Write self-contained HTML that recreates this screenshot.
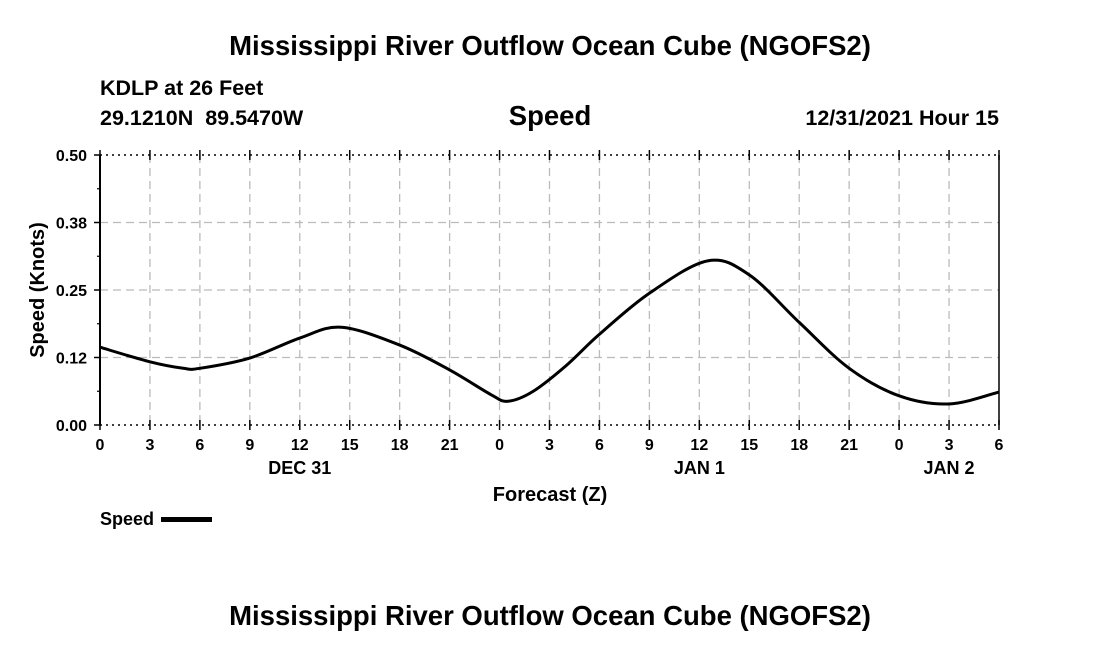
<!DOCTYPE html>
<html><head><meta charset="utf-8"><style>
body{margin:0;background:#fff;width:1100px;height:650px;overflow:hidden;font-family:"Liberation Sans",sans-serif}
svg text{font-family:"Liberation Sans",sans-serif;font-weight:bold;fill:#000}
</style></head><body>
<svg width="1100" height="650">
<text x="550" y="55" font-size="27.5" text-anchor="middle">Mississippi River Outflow Ocean Cube (NGOFS2)</text>
<text x="100" y="95" font-size="21.5">KDLP at 26 Feet</text>
<text x="100" y="125" font-size="21.5" xml:space="preserve">29.1210N  89.5470W</text>
<text x="550" y="125" font-size="27.5" text-anchor="middle">Speed</text>
<text x="999" y="125" font-size="21.5" text-anchor="end">12/31/2021 Hour 15</text>
<g id="grid"></g>
<g id="axes"></g>
<path id="line" fill="none" stroke="#000" stroke-width="3"></path>
<text x="550" y="501" font-size="20" text-anchor="middle">Forecast (Z)</text>
<text transform="translate(44,290) rotate(-90)" font-size="20" text-anchor="middle">Speed (Knots)</text>
<text x="100" y="525" font-size="18">Speed</text>
<rect x="161" y="517" width="51" height="5" fill="#000"></rect>
<text x="550" y="625" font-size="27.5" text-anchor="middle">Mississippi River Outflow Ocean Cube (NGOFS2)</text>
</svg>
<script>
const hours=[0,3,5,6,9,12,14.5,18,21,23.5,24.5,26,28,30,33,36.5,39,42,45,48,51,54];
const speeds=[0.144,0.117,0.105,0.105,0.124,0.161,0.181,0.148,0.102,0.056,0.044,0.062,0.110,0.168,0.244,0.304,0.278,0.19,0.105,0.054,0.039,0.061];
const yTicks=[0,0.125,0.25,0.375,0.5];
const yTickLabels=["0.00","0.12","0.25","0.38","0.50"];
const xTickLabels=["0","3","6","9","12","15","18","21","0","3","6","9","12","15","18","21","0","3","6"];
const dayLabels=[{h:12,t:"DEC 31"},{h:36,t:"JAN 1"},{h:51,t:"JAN 2"}];
const X0=100,X1=999,Y0=425,Y1=155;
const xs=h=>X0+(X1-X0)*h/54, ys=v=>Y0-(Y0-Y1)*v/0.5;
const NS="http://www.w3.org/2000/svg";
function mk(p,tag,a){const e=document.createElementNS(NS,tag);for(const k in a)e.setAttribute(k,a[k]);p.appendChild(e);return e;}
const grid=document.getElementById('grid'),axes=document.getElementById('axes');
xTickLabels.forEach((l,i)=>{const x=xs(i*3);
 if(i>0&&i<18){const g=mk(grid,'line',{x1:x,x2:x,y1:Y1,y2:Y0,stroke:'#bbb','stroke-width':1.3,'stroke-dasharray':'8,5'});
 }
 mk(axes,'line',{x1:x,x2:x,y1:Y0-5,y2:Y0+5,stroke:'#000','stroke-width':1.5});
 mk(axes,'line',{x1:x,x2:x,y1:Y1-5,y2:Y1+5,stroke:'#000','stroke-width':1.5});
 const t=mk(axes,'text',{x:x,y:450,'font-size':16,'text-anchor':'middle'});t.textContent=l;
 });
yTicks.forEach((v,i)=>{const y=ys(v);
 if(i>0&&i<4){const g=mk(grid,'line',{x1:X0,x2:X1,y1:y,y2:y,stroke:'#bbb','stroke-width':1.3,'stroke-dasharray':'8,5'});
 }
 mk(axes,'line',{x1:X0-6,x2:X0,y1:y,y2:y,stroke:'#000','stroke-width':1.5});
 if(i<4){const ym=ys(v+0.0625);mk(axes,'line',{x1:X0-3,x2:X0,y1:ym,y2:ym,stroke:'#000','stroke-width':1.2});}
 const t=mk(axes,'text',{x:X0-13,y:y+6,'font-size':16,'text-anchor':'end'});t.textContent=yTickLabels[i];
 });
[Y1,Y0].forEach(y=>mk(axes,'line',{x1:X0,x2:X1,y1:y,y2:y,stroke:'#000','stroke-width':1.5,'stroke-dasharray':'2,4'}));
mk(axes,'line',{x1:X0,x2:X0,y1:Y1,y2:Y0,stroke:'#000','stroke-width':2});
mk(axes,'line',{x1:X1,x2:X1,y1:Y1,y2:Y0,stroke:'#000','stroke-width':1.5});
dayLabels.forEach(d=>{const t=mk(axes,'text',{x:xs(d.h),y:474,'font-size':18,'text-anchor':'middle'});t.textContent=d.t;
 });
const P=hours.map((h,i)=>[xs(h),ys(speeds[i])]);
let d='M'+P[0][0]+','+P[0][1];
for(let i=0;i<P.length-1;i++){const p0=P[Math.max(0,i-1)],p1=P[i],p2=P[i+1],p3=P[Math.min(P.length-1,i+2)];
 const c1=[p1[0]+(p2[0]-p0[0])/6,p1[1]+(p2[1]-p0[1])/6],c2=[p2[0]-(p3[0]-p1[0])/6,p2[1]-(p3[1]-p1[1])/6];
 d+=` C${c1[0]},${c1[1]} ${c2[0]},${c2[1]} ${p2[0]},${p2[1]}`;}
document.getElementById('line').setAttribute('d',d);
</script>
</body></html>
